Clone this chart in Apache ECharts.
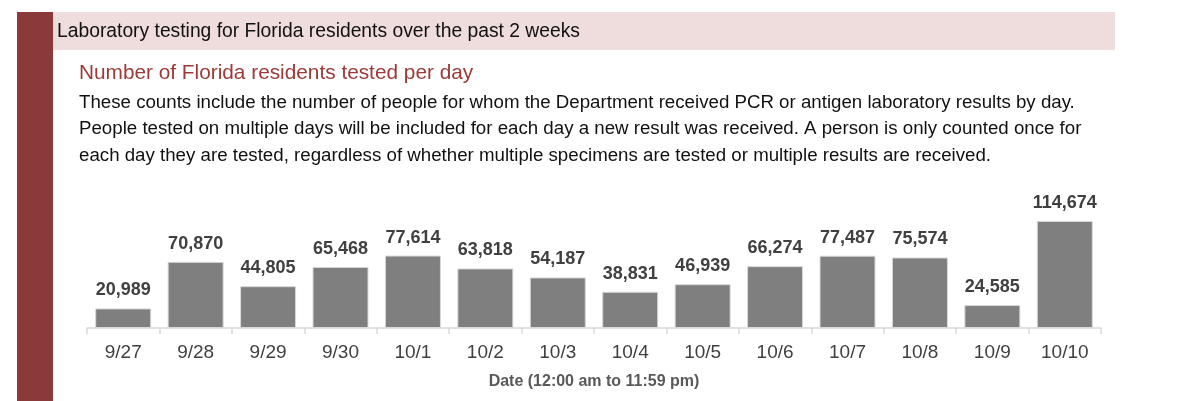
<!DOCTYPE html>
<html>
<head>
<meta charset="utf-8">
<script src="https://cdn.jsdelivr.net/npm/echarts@6/dist/echarts.min.js"></script>
<style>
html,body{margin:0;padding:0;background:#fff;}
#c{width:1200px;height:401px;}
</style>
</head>
<body>
<div id="c"></div>
<script>
const categories = ['9/27','9/28','9/29','9/30','10/1','10/2','10/3','10/4','10/5','10/6','10/7','10/8','10/9','10/10'];
const tested = [20989,70870,44805,65468,77614,63818,54187,38831,46939,66274,77487,75574,24585,114674];
const headerText = 'Laboratory testing for Florida residents over the past 2 weeks';
const subtitleText = 'Number of Florida residents tested per day';
const bodyLines = [
  'These counts include the number of people for whom the Department received PCR or antigen laboratory results by day.',
  'People tested on multiple days will be included for each day a new result was received. A person is only counted once for',
  'each day they are tested, regardless of whether multiple specimens are tested or multiple results are received.'
];
const axisName = 'Date (12:00 am to 11:59 pm)';

const FONT = '"Liberation Sans", Arial, sans-serif';
const chart = echarts.init(document.getElementById('c'));
const graphics = [
  {type:'rect', left:17, top:12, shape:{width:36, height:389}, style:{fill:'#8B3A3A'}},
  {type:'rect', left:53, top:12, shape:{width:1062, height:38}, style:{fill:'#EFDCDC'}},
  {type:'text', left:57, top:22, style:{text:headerText, font:'19.3px ' + FONT, fill:'#111'}},
  {type:'text', left:79, top:63, style:{text:subtitleText, font:'20.8px ' + FONT, fill:'#9B3A36'}}
];
bodyLines.forEach((t,i)=>{
  graphics.push({type:'text', left:79, top:93 + i*26.5, style:{text:t, font:'18.7px ' + FONT, fill:'#111'}});
});

chart.setOption({
  animation:false,
  graphic: graphics,
  grid:{left:87, right:99, top:216, bottom:73, containLabel:false},
  xAxis:{
    type:'category', data:categories,
    axisLine:{lineStyle:{color:'#d9d9d9', width:1.5}},
    axisTick:{show:true, length:6, lineStyle:{color:'#d9d9d9', width:1.5}},
    axisLabel:{color:'#404040', fontSize:19, fontFamily:FONT, margin:15},
    name:axisName, nameLocation:'middle', nameGap:46,
    nameTextStyle:{color:'#595959', fontSize:16, fontWeight:'bold', fontFamily:FONT}
  },
  yAxis:{type:'value', min:0, max:120000, show:false, splitLine:{show:false}},
  series:[{
    type:'bar', data:tested, barWidth:56,
    itemStyle:{color:'#7f7f7f', borderColor:'#d9d9d9', borderWidth:1},
    label:{show:true, position:'top', distance:9, color:'#404040', fontSize:18, fontWeight:'bold', fontFamily:FONT,
      formatter:p=>p.value.toLocaleString('en-US')}
  }]
});
</script>
</body>
</html>
